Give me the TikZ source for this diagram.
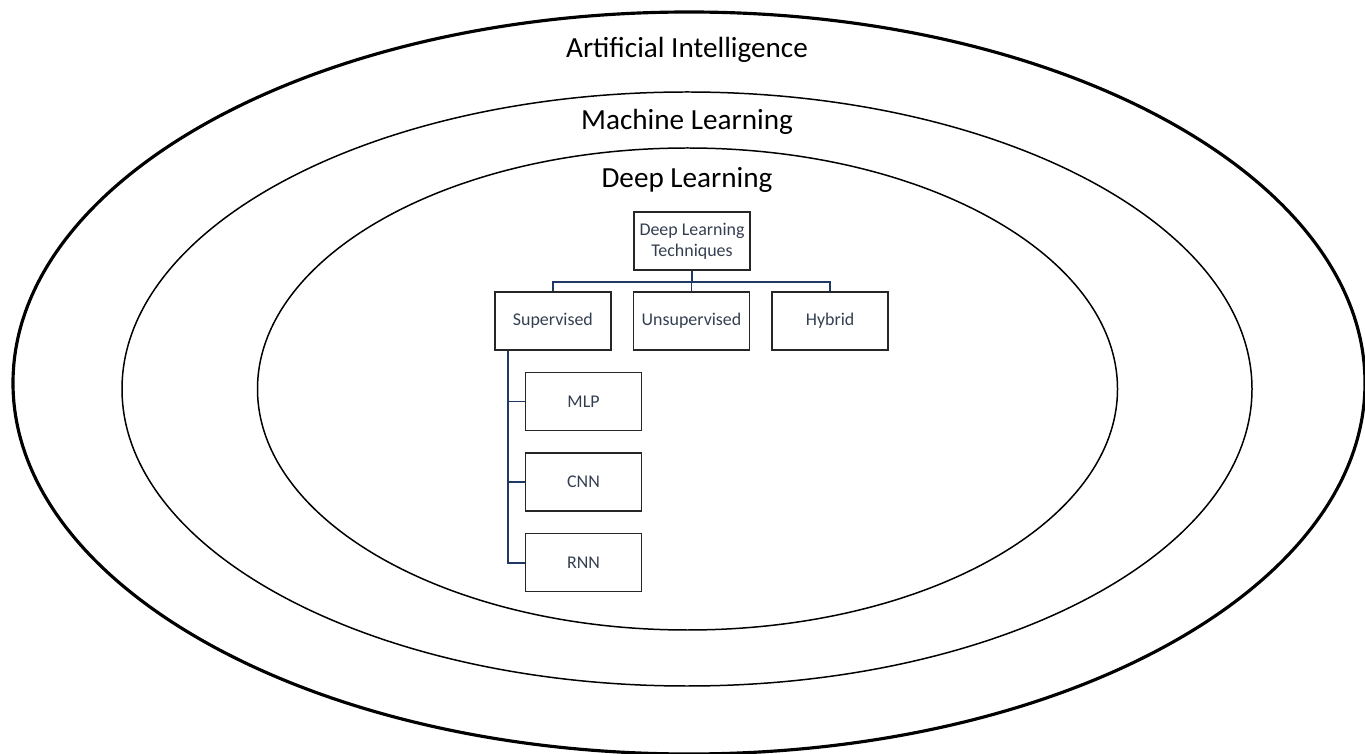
\documentclass[tikz,border=0pt]{standalone}
\usepackage{fontspec}
\setmainfont{Carlito}
\usetikzlibrary{positioning}
\definecolor{navy}{HTML}{1F3864}
\definecolor{boxtext}{HTML}{333F50}

\begin{document}
\begin{tikzpicture}[inner sep=0.3mm,
  box/.style={draw=black!85, line width=0.9pt, minimum width=2.32cm, minimum height=1.16cm, align=center, text=boxtext, font=\fontsize{10.2}{12}\selectfont},
  conn/.style={draw=navy, line width=1pt},
  ring/.style={font=\fontsize{16.6}{19}\selectfont}]

\useasboundingbox (0,0) rectangle (27.3,-15.08);

\draw[line width=1.8pt] (13.78,-7.66) ellipse (13.52 and 7.42);
\draw[line width=0.85pt] (13.74,-7.78) ellipse (11.3 and 5.94);
\draw[line width=0.85pt] (13.75,-7.78) ellipse (8.6 and 4.82);

\node[ring](ai) at (13.74,-1.0) {Artificial Intelligence};
\node[ring](ml) at (13.74,-2.44) {Machine Learning};
\node[ring](dl) at (13.74,-3.6) {Deep Learning};

\node[box](dlt) at (13.84,-4.82) {Deep Learning\\Techniques};
\node[box](uns) at (13.83,-6.42) {Unsupervised};
\node[box, left=0.42cm of uns](sup) {Supervised};
\node[box, right=0.42cm of uns](hyb) {Hybrid};

\node[box](mlp) at (11.67,-8.03) {MLP};
\node[box, below=0.42cm of mlp](cnn) {CNN};
\node[box, below=0.42cm of cnn](rnn) {RNN};

\coordinate[below=0.22cm of dlt.south](bar);
\coordinate(sbr) at ([xshift=0.28cm]sup.south west);

\draw[conn] (dlt.south) -- (bar);
\draw[conn] (bar) -| (sup.north);
\draw[conn] (bar) -| (uns.north);
\draw[conn] (bar) -| (hyb.north);

\draw[conn] (sbr) |- (mlp.west);
\draw[conn] (sbr) |- (cnn.west);
\draw[conn] (sbr) |- (rnn.west);

\end{tikzpicture}
\end{document}
